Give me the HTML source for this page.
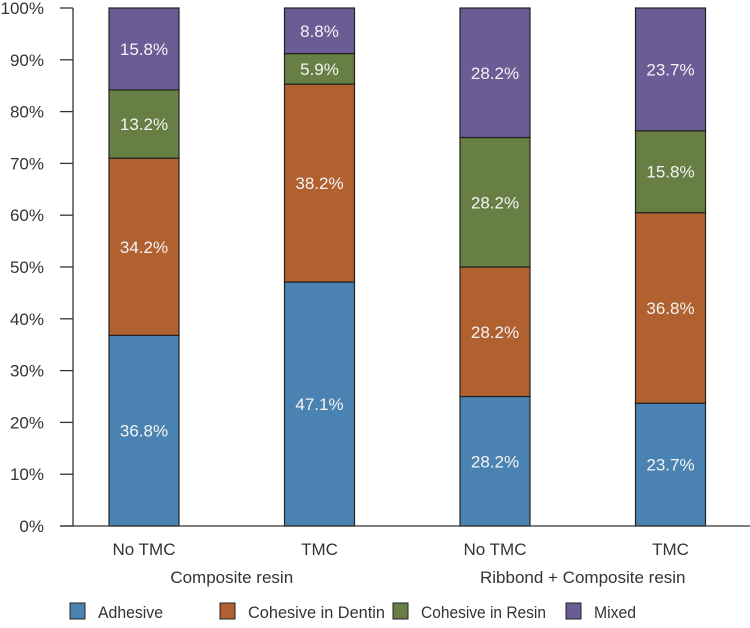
<!DOCTYPE html>
<html><head><meta charset="utf-8"><style>
body{margin:0;background:#fff;}
svg text{font-family:"Liberation Sans",sans-serif;}
</style></head><body>
<svg id="chart" width="750" height="623"></svg>
<script>
const categories=["No TMC","TMC","No TMC","TMC"];
const groups=["Composite resin","Ribbond + Composite resin"];
const seriesNames=["Adhesive","Cohesive in Dentin","Cohesive in Resin","Mixed"];
const colors=["#4a83b1","#b1602f","#677f44","#6b5c95"];
const adhesive=[36.8,47.1,25.0,23.7];
const adhesiveLabels=["36.8%","47.1%","28.2%","23.7%"];
const dentin=[34.2,38.2,25.0,36.8];
const dentinLabels=["34.2%","38.2%","28.2%","36.8%"];
const resin=[13.2,5.9,25.0,15.8];
const resinLabels=["13.2%","5.9%","28.2%","15.8%"];
const mixed=[15.8,8.8,25.0,23.7];
const mixedLabels=["15.8%","8.8%","28.2%","23.7%"];
const yTicks=[0,10,20,30,40,50,60,70,80,90,100];

const NS="http://www.w3.org/2000/svg";
const svg=document.getElementById('chart');
const y0=526,y100=8;
function y(v){return y0-(v/100)*(y0-y100);}
function xc(i){return 144+i*175.5;}
const bw=70;
function mk(tag,attrs,parent){const e=document.createElementNS(NS,tag);for(const k in attrs)e.setAttribute(k,attrs[k]);(parent||svg).appendChild(e);return e;}

const ax=mk('line',{x1:73,x2:73,y1:y100,y2:y0,stroke:'#333','stroke-width':1.3});


yTicks.forEach(t=>{
  const l=mk('line',{x1:60,x2:73,y1:y(t),y2:y(t),stroke:'#333','stroke-width':1.3});
  
  
  const tx=mk('text',{x:44,y:y(t)+6,'text-anchor':'end','font-size':17,fill:'#333'});
  tx.textContent=t+'%';
  
  
});

const series=[adhesive,dentin,resin,mixed];
const labels=[adhesiveLabels,dentinLabels,resinLabels,mixedLabels];
categories.forEach((c,i)=>{
  let base=0;
  series.forEach((s,k)=>{
    const v=s[i];
    const r=mk('rect',{x:xc(i)-bw/2,y:y(base+v),width:bw,height:y(base)-y(base+v),fill:colors[k],stroke:'#222','stroke-width':1.2});
    
    
    const t=mk('text',{x:xc(i),y:(y(base)+y(base+v))/2+6,'text-anchor':'middle','font-size':17,fill:'#f4f4f4'});
    t.textContent=labels[k][i];
    
    
    base+=v;
  });
  const cl=mk('text',{x:xc(i),y:555,'text-anchor':'middle','font-size':17,fill:'#333'});
  cl.textContent=c;
  
  
});
const xa=mk('line',{x1:60,x2:750,y1:y0,y2:y0,stroke:'#333','stroke-width':1.3});


groups.forEach((g,j)=>{
  const t=mk('text',{x:(xc(2*j)+xc(2*j+1))/2,y:583,'text-anchor':'middle','font-size':17,fill:'#333'});
  t.textContent=g;
  
  
});
const lx=[70,220,393,566];
const lw=[65,137,125,42];
seriesNames.forEach((n,k)=>{
  const r=mk('rect',{x:lx[k],y:603,width:15,height:16,fill:colors[k],stroke:'#222','stroke-width':1});
  
  
  const t=mk('text',{x:lx[k]+28,y:618,'font-size':17,fill:'#333',textLength:lw[k],lengthAdjust:'spacingAndGlyphs'});
  t.textContent=n;
  
  
});
</script>
</body></html>
